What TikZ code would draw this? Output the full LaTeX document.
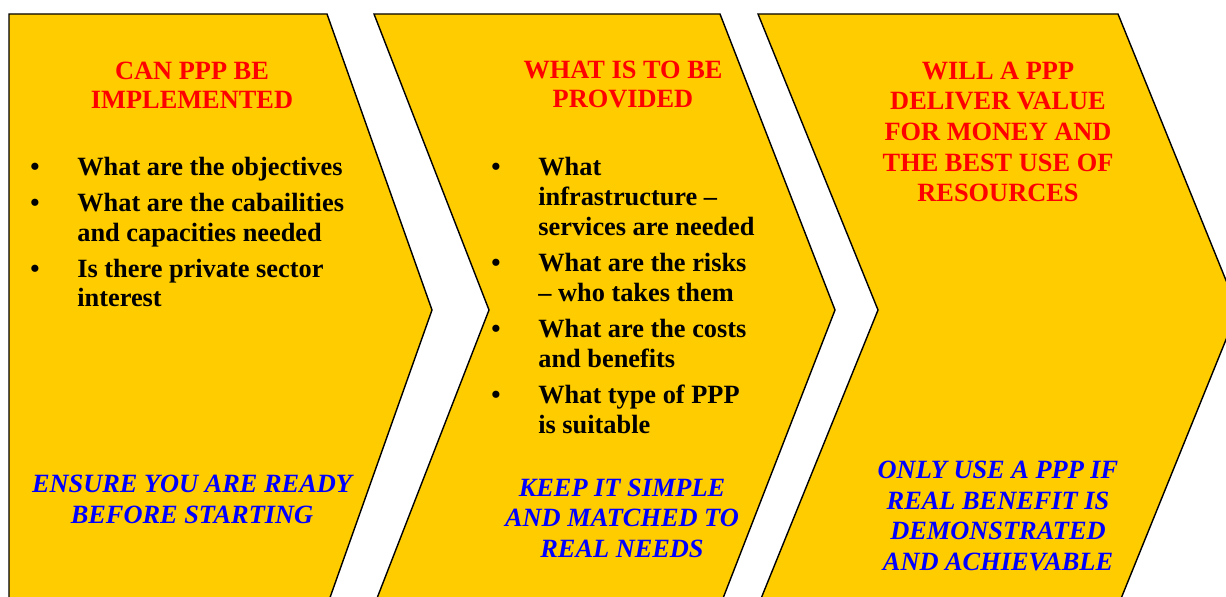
\documentclass[tikz,border=0pt]{standalone}
\usepackage{fontspec}
\setmainfont{Liberation Serif}
\usetikzlibrary{positioning}

\definecolor{chevyellow}{HTML}{FFCC00}
\newcommand{\bul}{\makebox[0.94cm][l]{\textbullet}}
\newcommand{\ind}{\hspace*{0.94cm}}

\begin{document}
\begin{tikzpicture}[x=0.02cm, y=-0.02cm,
    chevron/.style={draw=black, fill=chevyellow, line width=0.8pt, line join=miter},
    heading/.style={align=center, text=red, font=\fontsize{15}{17}\selectfont\bfseries, inner sep=0pt, anchor=base},
    points/.style={align=left, font=\fontsize{15}{17}\selectfont\bfseries, inner sep=0pt, anchor=base west},
    advice/.style={align=center, text=blue, font=\fontsize{15}{17.3}\selectfont\bfseries\itshape, inner sep=0pt, anchor=base}]
    \useasboundingbox (0,0) rectangle (1226,597);
    % Flechas de las tres etapas
    \begin{scope}
        \clip (0,0) rectangle (1226,597);
        \draw[chevron] (9,14) -- (327,14) -- (432,310) -- (327,606) -- (9,606) -- cycle;
        \draw[chevron] (374,14) -- (720,14) -- (835,310) -- (720,606) -- (374,606) -- (489,310) -- cycle;
        \draw[chevron] (758,14) -- (1118,14) -- (1238,310) -- (1118,606) -- (758,606) -- (878,310) -- cycle;
    \end{scope}
    % Etapa 1 (el ancla base queda en la ultima linea)
    \node[heading] (title1) at (192,109) {CAN PPP BE\\IMPLEMENTED};
    \node[points] (list1) at (30,307) {\bul What are the objectives\\[3.5pt]
        \bul What are the cabailities\\ \ind and capacities needed\\[3.5pt]
        \bul Is there private sector\\ \ind interest};
    \node[advice] (note1) at (192,523) {ENSURE YOU ARE READY\\BEFORE STARTING};
    % Etapa 2
    \node[heading] (title2) at (623,108) {WHAT IS TO BE\\PROVIDED};
    \node[points] (list2) at (491,433) {\bul What\\ \ind infrastructure --\\ \ind services are needed\\[3.5pt]
        \bul What are the risks\\ \ind -- who takes them\\[3.5pt]
        \bul What are the costs\\ \ind and benefits\\[3.5pt]
        \bul What type of PPP\\ \ind is suitable};
    \node[advice] (note2) at (622,557) {KEEP IT SIMPLE\\AND MATCHED TO\\REAL NEEDS};
    % Etapa 3
    \node[heading, font=\fontsize{15}{17.5}\selectfont\bfseries] (title3) at (998,202) {WILL A PPP\\DELIVER VALUE\\FOR MONEY AND\\THE BEST USE OF\\RESOURCES};
    \node[advice] (note3) at (998,570) {ONLY USE A PPP IF\\REAL BENEFIT IS\\DEMONSTRATED\\AND ACHIEVABLE};
\end{tikzpicture}
\end{document}
